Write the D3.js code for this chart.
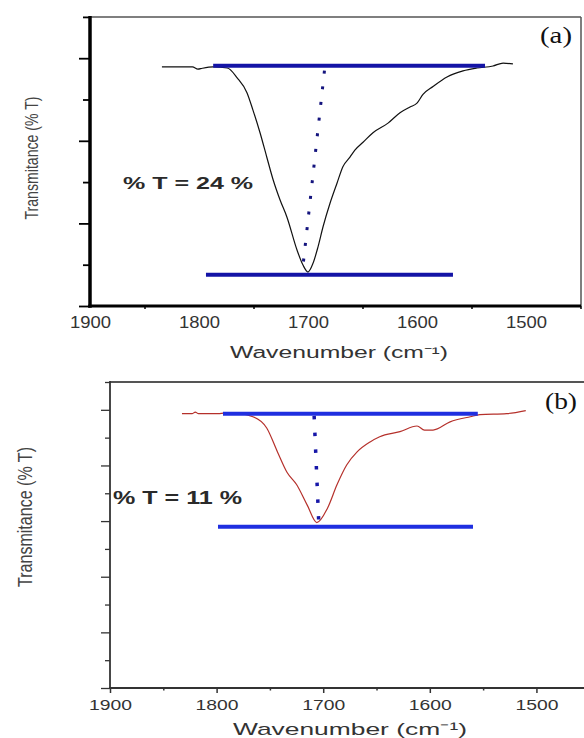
<!DOCTYPE html>
<html>
<head>
<meta charset="utf-8">
<script src="https://cdn.jsdelivr.net/npm/d3@7"></script>
<style>
  html, body { margin: 0; padding: 0; background: #fff; }
  svg { display: block; }
  text { white-space: pre; }
</style>
</head>
<body>
<svg id="chart" width="584" height="738"></svg>
<script>
// ---------- data ----------
// Panel (a): FT-IR carbonyl band, black trace
const wavenumberA = [1834, 1806, 1801, 1797, 1787, 1774, 1765, 1756, 1750.5, 1744, 1737.6, 1732, 1725.7, 1719.3, 1710, 1704.6, 1700,
  1695.4, 1690.8, 1686.2, 1679.8, 1673.4, 1668, 1661.5, 1657, 1649.5, 1640.4, 1626.6, 1615.6, 1606.4, 1600, 1594.5, 1585.3,
  1572.5, 1557.8, 1545, 1530.3, 1521, 1512];
const transA = [27.45, 27.45, 27.2, 27.3, 27.45, 27.33, 26.2, 24.5, 22.5, 19.9, 17.0, 14.5, 12.2, 10.2, 6.4, 4.7, 3.9,
  4.9, 6.8, 9.1, 11.8, 14.1, 16.0, 17.1, 17.9, 18.8, 19.9, 21.0, 22.2, 22.85, 23.3, 24.3, 25.2,
  26.3, 27.0, 27.33, 27.56, 27.9, 27.8];

// Panel (b): FT-IR carbonyl band, red trace
const wavenumberB = [1832.5, 1823, 1820, 1817, 1800, 1787, 1766, 1753, 1743, 1734, 1725, 1715, 1706, 1696, 1687, 1678, 1668,
  1656, 1647, 1628, 1612, 1605, 1597, 1581, 1562, 1553, 1528, 1510];
const transB = [26.7, 26.7, 26.85, 26.7, 26.7, 26.8, 26.4, 25.3, 23.0, 21.0, 19.8, 17.8, 16.1, 17.5, 19.8, 21.7, 23.0,
  23.95, 24.45, 24.95, 25.5, 25.1, 25.1, 25.9, 26.4, 26.6, 26.7, 27.0];

// Baseline / band-minimum levels used for the %T read-out
const baseA = 27.6, dropA = 24;   // % T = 24 %
const baseB = 26.7, dropB = 11;   // % T = 11 %
const baselineSpanA = [1787, 1537.6];
const minimumSpanA = [1793.6, 1567];
const dropLineA = [1684.4, 1705.5];
const baselineSpanB = [1794, 1555];
const minimumSpanB = [1798.7, 1559.5];
const dropLineB = [1708.6, 1704];

// Axis ticks
const xMajor = [1900, 1800, 1700, 1600, 1500];
const xMinor = [1850, 1750, 1650, 1550, 1450];
const yTicksA = [0, 4.743, 9.486, 14.229, 18.971, 23.714, 28.457, 33.2];
const yTicksB = [0, 2.707, 5.415, 8.122, 10.829, 13.536, 16.244, 18.951, 21.658, 24.365, 27.073, 29.78];

const xTitle = "Wavenumber (cm\u207B\u00B9)";
const yTitle = "Transmitance (% T)";

// ---------- drawing ----------
const svg = d3.select("#chart");
const SANS = "'Liberation Sans', Arial, sans-serif";
const SERIF = "'Liberation Serif', 'Times New Roman', serif";

function label(g, o) {
  const t = g.append("text")
    .attr("x", o.x).attr("y", o.y)
    .attr("font-family", o.family || SANS)
    .attr("font-size", o.size)
    .attr("font-weight", o.weight || "normal")
    .attr("fill", o.fill || "#222")
    .attr("text-anchor", o.anchor || "middle")
    .text(o.text);
  if (o.len) t.attr("textLength", o.len).attr("lengthAdjust", "spacingAndGlyphs");
  if (o.rotate) t.attr("transform", `rotate(${o.rotate},${o.x},${o.y})`);
  return t;
}

function panel(cfg) {
  const g = svg.append("g");
  const x = d3.scaleLinear().domain(cfg.xDomain).range([cfg.left, cfg.right]);
  const y = d3.scaleLinear().domain(cfg.yDomain).range([cfg.bottom, cfg.top]);

  // frame (top / right)
  g.append("line").attr("x1", cfg.left).attr("x2", cfg.frameRight)
    .attr("y1", cfg.top).attr("y2", cfg.top)
    .attr("stroke", "#555").attr("stroke-width", cfg.frameW);
  if (cfg.rightBorder) {
    g.append("line").attr("x1", cfg.frameRight).attr("x2", cfg.frameRight)
      .attr("y1", cfg.top).attr("y2", cfg.bottom)
      .attr("stroke", "#555").attr("stroke-width", cfg.frameW);
  }

  // y axis: long ticks on even steps, short ticks between
  const yMaj = cfg.yTicks.filter((d, i) => i % 2 === 0);
  const yMin = cfg.yTicks.filter((d, i) => i % 2 === 1);
  [[yMaj, cfg.yTickLong], [yMin, cfg.yTickShort]].forEach(([vals, len]) => {
    const ax = g.append("g").attr("transform", `translate(${cfg.left},0)`)
      .call(d3.axisLeft(y).tickValues(vals).tickSize(len).tickSizeOuter(0).tickFormat(""));
    ax.select(".domain").remove();
    ax.selectAll("line").attr("stroke", cfg.axisColor).attr("stroke-width", cfg.tickW);
  });
  g.append("line").attr("x1", cfg.left).attr("x2", cfg.left)
    .attr("y1", cfg.top - 1).attr("y2", cfg.bottom + cfg.axisW / 2)
    .attr("stroke", cfg.axisColor).attr("stroke-width", cfg.axisW);

  // x axis
  const xMinAx = g.append("g").attr("transform", `translate(0,${cfg.bottom})`)
    .call(d3.axisBottom(x).tickValues(xMinor).tickSize(cfg.xMinorLen).tickSizeOuter(0).tickFormat(""));
  xMinAx.select(".domain").remove();
  xMinAx.selectAll("line").attr("stroke", cfg.axisColor).attr("stroke-width", 1.5);
  const xMajAx = g.append("g").attr("transform", `translate(0,${cfg.bottom})`)
    .call(d3.axisBottom(x).tickValues(xMajor).tickSize(cfg.xMajorLen).tickSizeOuter(0).tickFormat(d3.format("d")));
  xMajAx.select(".domain").remove();
  xMajAx.selectAll("line").attr("stroke", cfg.axisColor).attr("stroke-width", 1.5);
  xMajAx.selectAll("text")
    .attr("y", cfg.tickLabelDy).attr("dy", null)
    .attr("font-family", SANS).attr("font-size", cfg.tickFont)
    .attr("fill", "#333")
    .attr("textLength", cfg.tickLabelLen).attr("lengthAdjust", "spacingAndGlyphs");
  g.append("line").attr("x1", cfg.left - cfg.axisW / 2).attr("x2", cfg.frameRight)
    .attr("y1", cfg.bottom).attr("y2", cfg.bottom)
    .attr("stroke", cfg.axisColor).attr("stroke-width", cfg.xAxisW);

  // spectrum trace
  const line = d3.line().x(d => x(d[0])).y(d => y(d[1])).curve(d3.curveMonotoneX);
  g.append("path").datum(cfg.wn.map((w, i) => [w, cfg.t[i]]))
    .attr("d", line).attr("fill", "none")
    .attr("stroke", cfg.traceColor).attr("stroke-width", 1.2);

  // baseline and band-minimum reference lines
  g.append("line").attr("x1", x(cfg.baseSpan[0])).attr("x2", x(cfg.baseSpan[1]))
    .attr("y1", y(cfg.base)).attr("y2", y(cfg.base))
    .attr("stroke", cfg.refColor).attr("stroke-width", 4);
  g.append("line").attr("x1", x(cfg.minSpan[0])).attr("x2", x(cfg.minSpan[1]))
    .attr("y1", y(cfg.base - cfg.drop)).attr("y2", y(cfg.base - cfg.drop))
    .attr("stroke", cfg.refColor).attr("stroke-width", 4);

  // dotted drop line between the two levels
  g.append("line").attr("x1", x(cfg.dropLine[0])).attr("x2", x(cfg.dropLine[1]))
    .attr("y1", y(cfg.base)).attr("y2", y(cfg.base - cfg.drop))
    .attr("stroke", cfg.dotColor).attr("stroke-width", cfg.dotSize)
    .attr("stroke-dasharray", cfg.dotDash).attr("stroke-dashoffset", cfg.dotOffset);

  // read-out text
  label(g, Object.assign({ text: `% T = ${cfg.drop} %`, weight: "bold", anchor: "start", fill: "#2a2a2a" }, cfg.readout));
  label(g, Object.assign({ family: SERIF, anchor: "end", fill: "#111" }, cfg.tag));

  // axis titles
  label(g, Object.assign({ text: xTitle, fill: "#333" }, cfg.xTitle));
  label(g, Object.assign({ text: yTitle, fill: "#444", rotate: -90 }, cfg.yTitle));
}

panel({
  left: 90, right: 580.5, frameRight: 581, top: 16.9, bottom: 306,
  xDomain: [1900, 1450], yDomain: [0, 33.2], yTicks: yTicksA,
  frameW: 1.5, rightBorder: true, axisColor: "#000", axisW: 3.5, xAxisW: 3, tickW: 1.8,
  yTickLong: 11, yTickShort: 7, xMinorLen: 3, xMajorLen: 0,
  tickLabelDy: 22, tickFont: 17, tickLabelLen: 41,
  wn: wavenumberA, t: transA, traceColor: "#111",
  base: baseA, drop: dropA, baseSpan: baselineSpanA, minSpan: minimumSpanA, dropLine: dropLineA,
  refColor: "#1414a6", dotColor: "#14147e", dotSize: 3, dotDash: "3,12.75", dotOffset: -5,
  readout: { x: 123, y: 189, size: 16, len: 130 },
  tag: { text: "(a)", x: 572, y: 43, size: 24, len: 32 },
  xTitle: { x: 339, y: 358, size: 16, len: 218 },
  yTitle: { x: 38, y: 158, size: 19, len: 123 }
});

panel({
  left: 110, right: 584.4, frameRight: 584, top: 382, bottom: 688,
  xDomain: [1900, 1455], yDomain: [0, 29.78], yTicks: yTicksB,
  frameW: 2, rightBorder: false, axisColor: "#333", axisW: 1.8, xAxisW: 1.8, tickW: 1.3,
  yTickLong: 9, yTickShort: 5, xMinorLen: 2.5, xMajorLen: 5,
  tickLabelDy: 22, tickFont: 14, tickLabelLen: 43,
  wn: wavenumberB, t: transB, traceColor: "#b5302b",
  base: baseB, drop: dropB, baseSpan: baselineSpanB, minSpan: minimumSpanB, dropLine: dropLineB,
  refColor: "#1f2fe0", dotColor: "#1616a8", dotSize: 3.5, dotDash: "3.5,13.2", dotOffset: -2.3,
  readout: { x: 113, y: 504, size: 18, len: 129 },
  tag: { text: "(b)", x: 577, y: 409, size: 23, len: 32 },
  xTitle: { x: 350, y: 735, size: 17, len: 234 },
  yTitle: { x: 32, y: 517, size: 21, len: 140 }
});
</script>
</body>
</html>
